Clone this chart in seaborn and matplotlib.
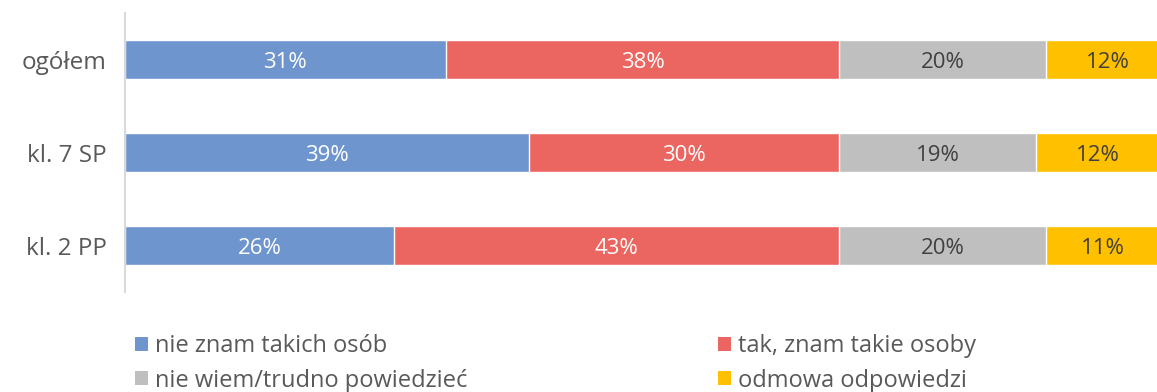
import matplotlib
matplotlib.use("Agg")
import matplotlib.pyplot as plt
from matplotlib.patches import Patch
import numpy as np
import pandas as pd
import seaborn as sns

categories = ["ogółem", "kl. 7 SP", "kl. 2 PP"]
series_names = ["nie znam takich osób", "tak, znam takie osoby",
                "nie wiem/trudno powiedzieć", "odmowa odpowiedzi"]
nie_znam = [31, 39, 26]
tak_znam = [38, 30, 43]
nie_wiem = [20, 19, 20]
odmowa = [12, 12, 11]

colors = ["#6E95CD", "#EB6660", "#BFBFBF", "#FFC000"]
label_colors = ["white", "white", "#404040", "#404040"]
text_color = "#595959"

sns.set_theme(style="white")
plt.rcParams["font.family"] = ["Open Sans", "DejaVu Sans"]

values = np.array([nie_znam, tak_znam, nie_wiem, odmowa], dtype=float)
cum = values.cumsum(axis=0)

fig = plt.figure(figsize=(11.57, 3.92), dpi=100)
ax = fig.add_axes([125 / 1157, 1 - 292 / 392, 1035 / 1157, 279 / 392])

# stacked bars: draw cumulative totals from the outermost segment inward
for i in range(len(series_names) - 1, -1, -1):
    df = pd.DataFrame({"cat": categories, "val": cum[i]})
    sns.barplot(data=df, y="cat", x="val", orient="h", color=colors[i],
                saturation=1, width=0.41, edgecolor="white", linewidth=1,
                ax=ax)

for i in range(len(series_names)):
    for j, cat in enumerate(categories):
        start = cum[i][j] - values[i][j]
        mid = start + values[i][j] / 2
        ax.text(mid, j, f"{int(values[i][j])}%", ha="center",
                va="center_baseline", fontsize=16, color=label_colors[i])

ax.set_xlim(0, 100)
ax.set_ylim(2.5, -0.5)
ax.set_xlabel("")
ax.set_ylabel("")
ax.set_xticks([])
ax.tick_params(axis="y", length=0, pad=13, labelsize=17.5,
               labelcolor=text_color)
for side in ["top", "right", "bottom"]:
    ax.spines[side].set_visible(False)
ax.spines["left"].set_color("#D9D9D9")
ax.spines["left"].set_linewidth(1.5)

# legend laid out column by column: left column blue/grey, right red/yellow
order = [0, 2, 1, 3]
handles = [Patch(facecolor=colors[k], edgecolor="none") for k in order]
labels = [series_names[k] for k in order]
leg = fig.legend(handles, labels, ncol=2, loc="upper left",
                 bbox_to_anchor=(135 / 1157, 1 - 334 / 392), frameon=False,
                 fontsize=17, handlelength=0.55, handleheight=0.55,
                 handletextpad=0.3, columnspacing=10.6, labelspacing=0.45,
                 borderaxespad=0, borderpad=0)
for t in leg.get_texts():
    t.set_color(text_color)

fig.savefig("out.png", dpi=100)
